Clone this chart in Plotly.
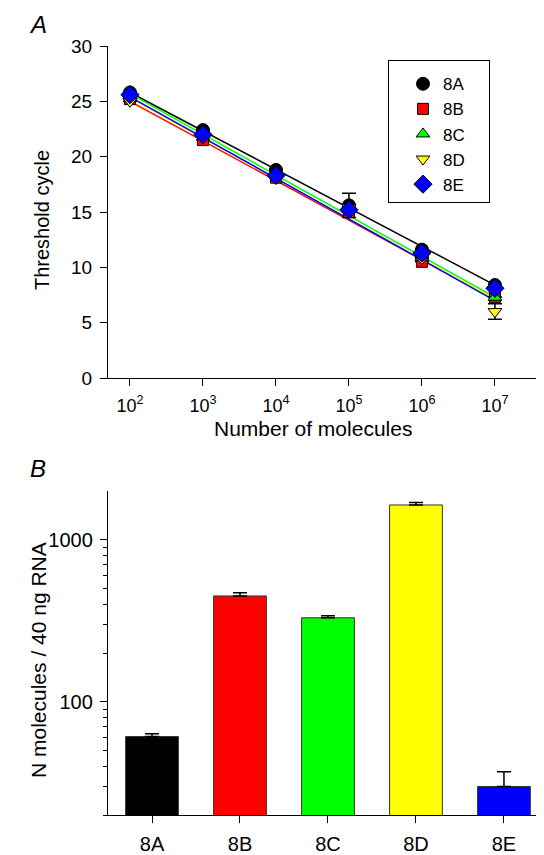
import numpy as np
import plotly.graph_objects as go

# ---------------- Data ----------------
molecules = [1e2, 1e3, 1e4, 1e5, 1e6, 1e7]
series_names = ["8A", "8B", "8C", "8D", "8E"]
ct_8A = [25.8, 22.4, 18.8, 15.6, 11.6, 8.4]
ct_8B = [25.2, 21.5, 18.1, 15.0, 10.5, 7.3]
ct_8C = [25.5, 22.0, 18.4, 15.2, 10.9, 7.3]
ct_8D = [25.0, 21.8, 18.2, 15.4, 10.8, 6.0]
ct_8E = [25.6, 22.0, 18.3, 15.2, 11.3, 8.1]
err_8A = [0, 0, 0, 1.1, 0, 0]
err_8B = [0, 0, 0, 0, 0, 0]
err_8C = [0, 0, 0, 0, 0, 0]
err_8D = [0, 0, 0, 0, 0, 0.7]
err_8E = [0, 0, 0, 0, 0, 0]
# standard-curve regression (Ct = intercept + slope * log10(N))
fit_slope = [-3.48, -3.58, -3.68, -3.64, -3.68]
fit_intercept = [32.76, 32.16, 33.06, 32.58, 32.76]

x_tick_vals = [1e2, 1e3, 1e4, 1e5, 1e6, 1e7]
x_tick_text = ["10<sup>2</sup>", "10<sup>3</sup>", "10<sup>4</sup>",
               "10<sup>5</sup>", "10<sup>6</sup>", "10<sup>7</sup>"]

bar_categories = ["8A", "8B", "8C", "8D", "8E"]
bar_values = [61, 450, 330, 1640, 30]
bar_err_up = [2.5, 21, 10, 60, 7]

# ---------------- Style ----------------
colors = ["#000000", "#FF0000", "#00FF00", "#FFFF00", "#0000FF"]
symbols = ["circle", "square", "triangle-up", "triangle-down", "diamond"]
sizes = [13, 11, 12, 12, 14]
FONT = "Liberation Sans, Arial, Helvetica, sans-serif"
OFF = 8  # default page body margin
W, H = 544 - OFF, 855 - OFF

def px_x(p):
    return (p - OFF) / W

def px_y(p):
    return 1 - (p - OFF) / H

ct_all = [ct_8A, ct_8B, ct_8C, ct_8D, ct_8E]
err_all = [err_8A, err_8B, err_8C, err_8D, err_8E]

fig = go.Figure()

# regression lines
xl = np.array([min(molecules), max(molecules)])
for i, name in enumerate(series_names):
    fig.add_trace(go.Scatter(
        x=xl, y=fit_intercept[i] + fit_slope[i] * np.log10(xl),
        mode="lines", line=dict(color=colors[i], width=1.5),
        showlegend=False, hoverinfo="skip", xaxis="x", yaxis="y"))

# data points
PAD = '<span style="color:rgba(0,0,0,0)">00</span>'
for i, name in enumerate(series_names):
    fig.add_trace(go.Scatter(
        x=molecules, y=ct_all[i], mode="markers", name=name + PAD,
        marker=dict(symbol=symbols[i], size=sizes[i], color=colors[i],
                    line=dict(color="#000000", width=1)),
        error_y=dict(type="data", array=err_all[i], visible=True,
                     color="#000000", thickness=1.5, width=7),
        xaxis="x", yaxis="y"))

# bars
fig.add_trace(go.Bar(
    x=bar_categories, y=bar_values, width=0.6,
    marker=dict(color=colors, line=dict(color="#333333", width=1)),
    error_y=dict(type="data", symmetric=False, array=bar_err_up,
                 arrayminus=[0] * len(bar_err_up), color="#000000",
                 thickness=1.5, width=7),
    showlegend=False, xaxis="x2", yaxis="y2"))

axis_common = dict(showline=True, linecolor="#000000", linewidth=1.3,
                   ticks="outside", tickcolor="#000000", tickwidth=1.3,
                   showgrid=False, zeroline=False, automargin=False)

def tf(size):
    return dict(family=FONT, size=size, color="#000000")

minor_b = [20, 30, 40, 50, 60, 70, 80, 90, 200, 300, 400, 500, 600, 700, 800, 900]

fig.update_layout(
    width=W, height=H,
    margin=dict(l=0, r=0, t=0, b=0),
    paper_bgcolor="white", plot_bgcolor="white",
    font=dict(family=FONT, color="#000000"),
    bargap=0.4,
    xaxis=dict(**axis_common, type="log", domain=[px_x(108), 1.0],
               range=[1.699, 7.672], tickvals=x_tick_vals, ticktext=x_tick_text,
               ticklen=7, anchor="y", ticklabelstandoff=4, tickfont=tf(18)),
    yaxis=dict(**axis_common, domain=[px_y(378), px_y(46)], range=[0, 30],
               tickvals=[0, 5, 10, 15, 20, 25, 30], ticklen=7, anchor="x",
               ticklabelstandoff=4, tickfont=tf(19)),
    xaxis2=dict(**axis_common, domain=[px_x(108), 1.0], range=[-0.5, 4.455],
                ticklen=7, anchor="y2", ticklabelstandoff=4, tickfont=tf(20),
                categoryorder="array", categoryarray=bar_categories),
    yaxis2=dict(**axis_common, type="log", domain=[px_y(815), px_y(491)],
                range=[np.log10(20), np.log10(2000)], tickvals=[100, 1000],
                ticktext=["100", "1000"], ticklen=7, anchor="x2",
                ticklabelstandoff=3, tickfont=tf(20),
                minor=dict(tickvals=minor_b, ticks="outside", ticklen=4,
                           tickcolor="#000000", tickwidth=1.2)),
    legend=dict(x=px_x(388), y=px_y(60), xanchor="left", yanchor="top",
                bordercolor="#000000", borderwidth=1, bgcolor="white",
                font=dict(family=FONT, size=17, color="#000000"),
                tracegroupgap=0, indentation=14, itemsizing="trace",
                title=dict(text=" ", font=dict(size=4))),
)

annotations = [
    dict(text="<i>A</i>", x=px_x(38), y=px_y(25), size=24),
    dict(text="<i>B</i>", x=px_x(38), y=px_y(468), size=24),
    dict(text="Threshold cycle", x=px_x(42), y=px_y(220), size=20, angle=-90),
    dict(text="Number of molecules", x=px_x(313), y=px_y(428), size=21),
    dict(text="N molecules / 40 ng RNA", x=px_x(38), y=px_y(660), size=21, angle=-90),
]
for a in annotations:
    fig.add_annotation(text=a["text"], x=a["x"], y=a["y"], xref="paper", yref="paper",
                       showarrow=False, textangle=a.get("angle", 0),
                       xanchor="center", yanchor="middle",
                       font=dict(family=FONT, size=a["size"], color="#000000"))

fig.write_html("out.html")
